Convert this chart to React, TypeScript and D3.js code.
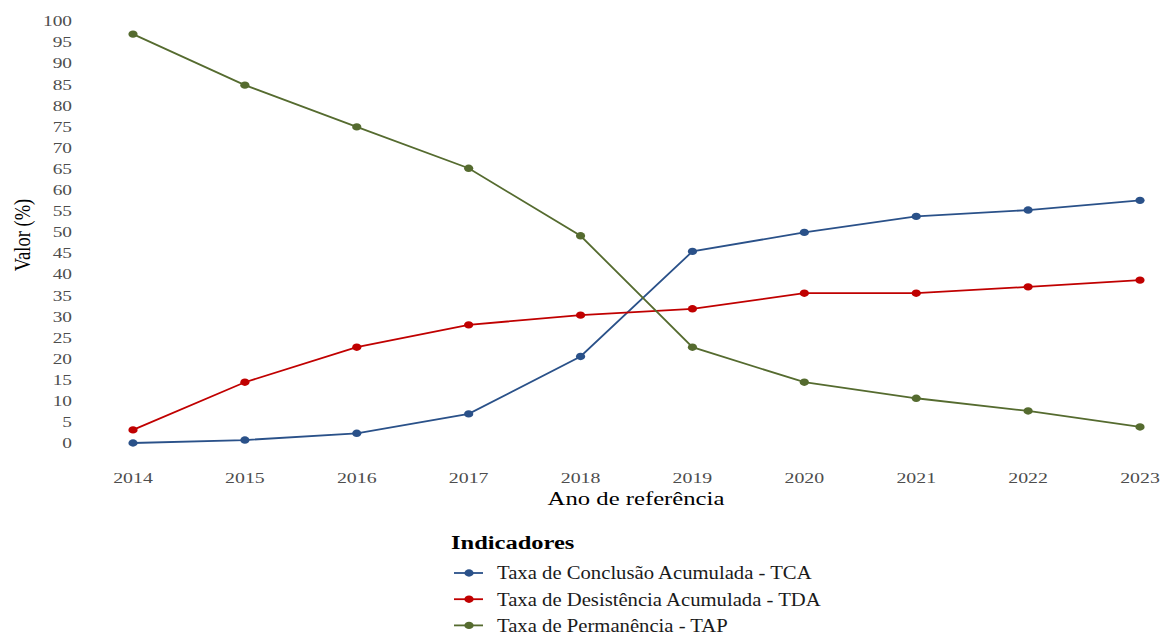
import React from "react";
import * as d3 from "d3";

const years = [2014, 2015, 2016, 2017, 2018, 2019, 2020, 2021, 2022, 2023];
const tca = [0, 0.7, 2.3, 6.9, 20.5, 45.4, 49.9, 53.7, 55.2, 57.5];
const tda = [3.1, 14.4, 22.7, 28.0, 30.3, 31.8, 35.5, 35.5, 37.0, 38.6];
const tap = [96.9, 84.8, 74.9, 65.1, 49.1, 22.7, 14.4, 10.6, 7.6, 3.8];
const yTicks = d3.range(0, 101, 5);
const seriesNames = [
  "Taxa de Conclusão Acumulada - TCA",
  "Taxa de Desistência Acumulada - TDA",
  "Taxa de Permanência - TAP",
];
const seriesColors = ["#2A5189", "#C00000", "#556B2F"];

function T(props: {
  x: number; y: number; sx: number; size: number; anchor?: string; fill?: string; weight?: string; children: React.ReactNode;
}) {
  return (
    <text
      transform={`translate(${props.x},${props.y}) scale(${props.sx},1)`}
      dy="0.35em"
      textAnchor={props.anchor || "start"}
      fontSize={props.size}
      fontWeight={props.weight || "normal"}
      fill={props.fill || "#000"}
    >
      {props.children}
    </text>
  );
}

export default function App() {
  const W = 1161, H = 636;
  const x = d3.scalePoint<number>().domain(years).range([133, 1140]);
  const y = d3.scaleLinear().domain([0, 100]).range([443, 21]);
  const series = [tca, tda, tap];
  const line = d3
    .line<number>()
    .x((_, i) => x(years[i]) as number)
    .y((d) => y(d));
  const font = "'Liberation Serif', 'Times New Roman', serif";
  return (
    <svg width={W} height={H} style={{ position: "absolute", left: 0, top: 0, background: "#fff" }} fontFamily={font}>
      {yTicks.map((t) => (
        <T key={t} x={72} y={y(t)} sx={1.29} size={15} anchor="end" fill="#4d4d4d">
          {t}
        </T>
      ))}
      {years.map((yr) => (
        <T key={yr} x={x(yr) as number} y={477.5} sx={1.28} size={15.5} anchor="middle" fill="#4d4d4d">
          {yr}
        </T>
      ))}
      <T x={636} y={498} sx={1.3} size={19} anchor="middle">
        Ano de referência
      </T>
      <text transform={`translate(22,235) rotate(-90) scale(1,1.3)`} textAnchor="middle" dy="0.35em" fontSize={18.5} fill="#000">
        Valor (%)
      </text>
      {series.map((s, si) => (
        <g key={si}>
          <path d={line(s) || ""} fill="none" stroke={seriesColors[si]} strokeWidth={1.8} />
          {s.map((v, i) => (
            <ellipse key={i} cx={x(years[i])} cy={y(v)} rx={4.6} ry={3.7} fill={seriesColors[si]} />
          ))}
        </g>
      ))}
      <T x={451} y={542.5} sx={1.29} size={19} weight="bold">
        Indicadores
      </T>
      {seriesNames.map((n, i) => {
        const ly = 573 + i * 26.2;
        return (
          <g key={n}>
            <line x1={454} x2={483} y1={ly} y2={ly} stroke={seriesColors[i]} strokeWidth={1.8} />
            <ellipse cx={469} cy={ly} rx={4.6} ry={3.7} fill={seriesColors[i]} />
            <T x={497} y={ly} sx={1.15} size={18} fill="#1a1a1a">
              {n}
            </T>
          </g>
        );
      })}
    </svg>
  );
}
